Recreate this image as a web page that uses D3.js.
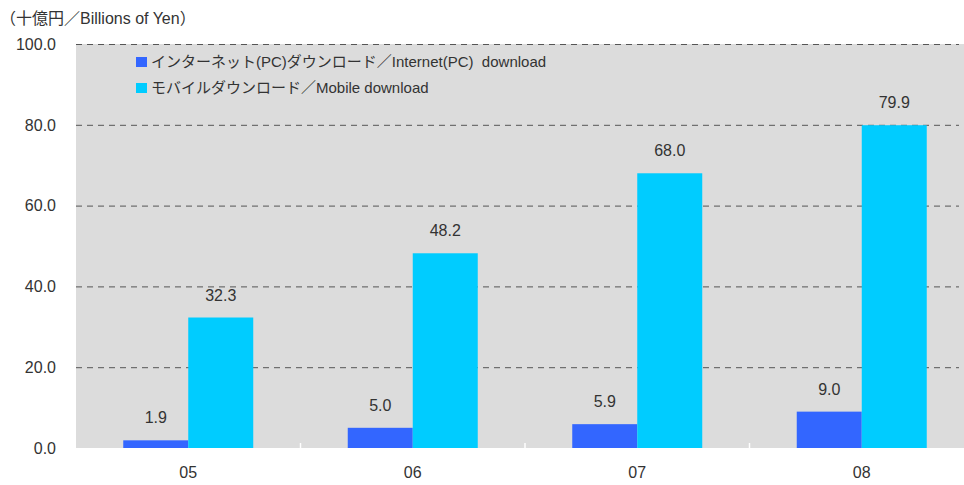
<!DOCTYPE html>
<html><head><meta charset="utf-8">
<script src="https://cdn.jsdelivr.net/npm/d3@7"></script>
<style>
body{margin:0;background:#fff;}
text{font-family:"Liberation Sans","Noto Sans CJK JP",Arial,sans-serif;fill:#333;}
</style></head>
<body><svg id="c" width="964" height="485"></svg>
<script>
const categories = ["05","06","07","08"];
const seriesNames = ["インターネット(PC)ダウンロード／Internet(PC)  download","モバイルダウンロード／Mobile download"];
const pcValues = [1.9,5.0,5.9,9.0];
const mobileValues = [32.3,48.2,68.0,79.9];
const yTicks = [0,20,40,60,80,100];
const colors = ["#3366FF","#00CCFF"];
const unitLabel = "（十億円／Billions of Yen）";

(function(){
const svg = d3.select("#c");
const pl = 76, pr = 974, pt = 44, pb = 448;
const x = d3.scaleBand().domain(categories).range([pl,pr]).paddingInner(0).paddingOuter(0);
const y = d3.scaleLinear().domain([0,100]).range([pb,pt]);
const inner = d3.scaleBand().domain([0,1]).range([0,130]);
const barOffset = (x.bandwidth()-130)/2;

svg.append("rect").attr("x",pl).attr("y",pt).attr("width",pr-pl).attr("height",pb-pt).attr("fill","#DCDCDC");

svg.append("g").selectAll("line").data(yTicks.filter(d=>d>0)).join("line")
  .attr("x1",pl).attr("x2",959).attr("y1",d=>y(d)+0.5).attr("y2",d=>y(d)+0.5)
  .attr("stroke","#555").attr("stroke-width",1).attr("stroke-dasharray","6,5");

svg.append("g").selectAll("text").data(yTicks).join("text")
  .attr("x",56).attr("y",d=>y(d)).attr("dy","0.36em").attr("text-anchor","end")
  .attr("font-size",16).text(d=>d.toFixed(1));

const series = [pcValues, mobileValues];
series.forEach((vals,si)=>{
  svg.append("g").selectAll("rect").data(vals).join("rect")
    .attr("x",(d,i)=>x(categories[i])+barOffset+inner(si))
    .attr("width",inner.bandwidth())
    .attr("y",d=>y(d)).attr("height",d=>pb-y(d))
    .attr("fill",colors[si]);
  svg.append("g").selectAll("text").data(vals).join("text")
    .attr("x",(d,i)=>x(categories[i])+barOffset+inner(si)+inner.bandwidth()/2)
    .attr("y",d=>y(d)-17).attr("text-anchor","middle").attr("font-size",16)
    .text(d=>d.toFixed(1));
});

svg.append("line").attr("x1",pl).attr("x2",pr).attr("y1",pb+0.5).attr("y2",pb+0.5).attr("stroke","#fff").attr("stroke-width",1);
svg.append("g").selectAll("line").data(categories.slice(1)).join("line")
  .attr("x1",d=>x(d)).attr("x2",d=>x(d)).attr("y1",pb).attr("y2",pb-5)
  .attr("stroke","#fff").attr("stroke-width",1.5);

svg.append("g").selectAll("text").data(categories).join("text")
  .attr("x",d=>x(d)+x.bandwidth()/2).attr("y",478).attr("text-anchor","middle")
  .attr("font-size",16).text(d=>d);

svg.append("text").attr("x",0).attr("y",24).attr("font-size",16).text(unitLabel);

seriesNames.forEach((n,i)=>{
  const ly = 61.5 + i*26;
  svg.append("rect").attr("x",136).attr("y",ly-4.5).attr("width",11).attr("height",10).attr("fill",colors[i]);
  svg.append("text").attr("x",151).attr("y",ly).attr("dy","0.36em").attr("font-size",15)
    .attr("xml:space","preserve").style("white-space","pre").text(n);
});
})();
</script></body></html>
